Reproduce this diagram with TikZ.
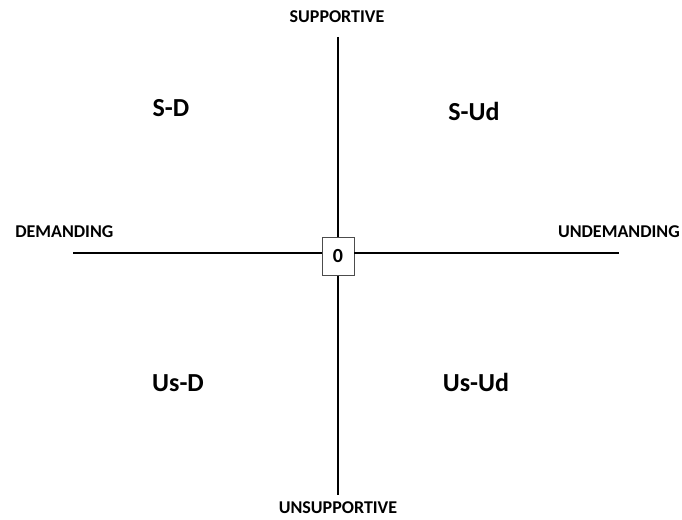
\documentclass[tikz,border=0pt]{standalone}
\usepackage{fontspec}
\setmainfont{Carlito}
\usetikzlibrary{positioning}
\tikzset{
  axislabel/.style={font=\fontsize{13.5}{16}\selectfont\bfseries, inner sep=0pt},
  quadlabel/.style={font=\fontsize{19.5}{22}\selectfont\bfseries, inner sep=0pt},
  origin/.style={rectangle, draw=black!70, line width=0.6pt, fill=white, minimum width=24pt, minimum height=29pt, font=\fontsize{15}{17}\selectfont\bfseries},
  axis/.style={line width=1.5pt}
}
\begin{document}
\begin{tikzpicture}[x=0.75pt, y=-0.75pt]
    \useasboundingbox (0,0) rectangle (682,520);

    % Ejes
    \coordinate (top) at (338,37);
    \coordinate (bottom) at (338,495);
    \coordinate (left) at (73,253);
    \coordinate (right) at (619,253);

    \node (zero) [origin] at (338,256.5) {0};

    \draw [axis] (top) -- (zero.north);
    \draw [axis] (zero.south) -- (bottom);
    \draw [axis] (left) -- (left -| zero.west);
    \draw [axis] (right -| zero.east) -- (right);

    % Etiquetas de los ejes
    \node (supp) [axislabel] at (337,17) {SUPPORTIVE};
    \node (unsupp) [axislabel] at (338,508) {UNSUPPORTIVE};
    \node (dem) [axislabel, anchor=west] at (15,232) {DEMANDING};
    \node (undem) [axislabel, anchor=east] at (680,232) {UNDEMANDING};

    % Cuadrantes
    \node (sd) [quadlabel] at (171,108) {S-D};
    \node (sud) [quadlabel] at (474,111) {S-Ud};
    \node (usd) [quadlabel] at (178,383) {Us-D};
    \node (usud) [quadlabel] at (476,382) {Us-Ud};

\end{tikzpicture}
\end{document}
